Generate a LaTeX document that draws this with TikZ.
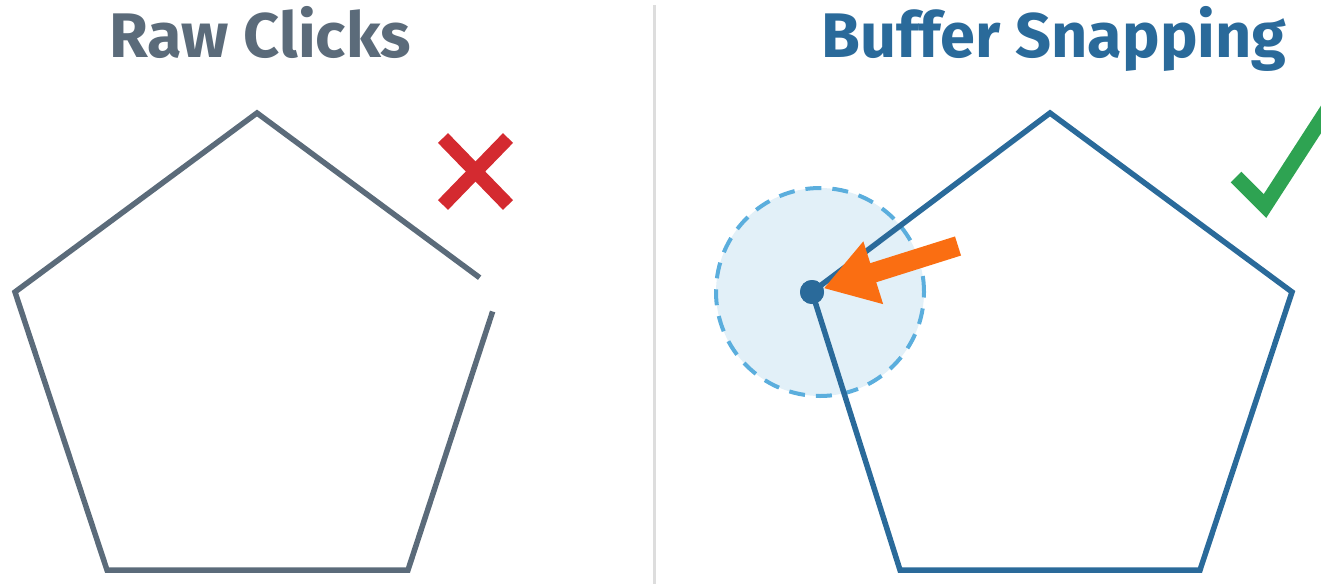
\documentclass[tikz,border=0pt]{standalone}
\usepackage{fontspec}
\setmainfont{Fira Sans}
\usepackage{tikz}
\usetikzlibrary{arrows.meta, calc}
\definecolor{slate}{HTML}{5B6B7A}
\definecolor{snapblue}{HTML}{2A6A9A}
\definecolor{xred}{HTML}{D42A30}
\definecolor{okgreen}{HTML}{2EA352}
\definecolor{pointer}{HTML}{FA6E12}
\definecolor{bufferfill}{HTML}{E2F0F8}
\definecolor{bufferline}{HTML}{5BAEDD}
\definecolor{divider}{HTML}{DDDDDD}
\tikzstyle{title}    = [font=\fontsize{63}{75}\selectfont\bfseries, anchor=base, inner sep=0pt]
\tikzstyle{outline}  = [line width=5.5pt, line join=miter]
\tikzstyle{badmark}  = [xred, line width=14pt]
\tikzstyle{goodmark} = [okgreen, line width=15pt, line join=miter]
\tikzstyle{buffer}   = [circle, fill=bufferfill, draw=bufferline, line width=4pt, dash pattern=on 16pt off 11pt, minimum size=208pt, inner sep=0pt]
\tikzstyle{vertex}   = [circle, fill=snapblue, minimum size=24pt, inner sep=0pt]
\tikzstyle{arrow}    = [pointer, line width=20pt, -{Triangle[length=52pt, width=62pt]}]
\begin{document}
\begin{tikzpicture}[x=1pt, y=-1pt]
    \useasboundingbox (0,0) rectangle (1321,584);

    \node (rawtitle)  at (260,57)  [title, slate]    {Raw Clicks};
    \node (snaptitle) at (1054,57) [title, snapblue] {Buffer Snapping};

    \coordinate (divtop) at (654,5);
    \coordinate (divbot) at (654,584);
    \draw [divider, line width=3pt] (divtop) -- (divbot);

    \coordinate (lt)  at (257,113);
    \coordinate (lr)  at (499,292);
    \coordinate (lbr) at (408,570);
    \coordinate (lbl) at (107,570);
    \coordinate (ll)  at (15,292);
    \draw [outline, slate] ($(lt)!0.92!(lr)$) -- (lt) -- (ll) -- (lbl) -- (lbr) -- ($(lr)!0.07!(lbr)$);

    \coordinate (xa) at (443,138);
    \coordinate (xb) at (508,205);
    \coordinate (xc) at (508,138);
    \coordinate (xd) at (443,205);
    \draw [badmark] (xa) -- (xb);
    \draw [badmark] (xc) -- (xd);

    \node (zone) at (820,292) [buffer] {};
    \coordinate (rt)  at (1050,113);
    \coordinate (rr)  at (1292,292);
    \coordinate (rbr) at (1200,570);
    \coordinate (rbl) at (900,570);
    \node (snap) at (812,292) [vertex] {};
    \draw [outline, snapblue] (snap.center) -- (rt) -- (rr) -- (rbr) -- (rbl) -- cycle;
    \node at (snap.center) [vertex] {};

    \coordinate (tail) at (958,246);
    \draw [arrow] (tail) -- (snap);

    \coordinate (ca) at (1236,177);
    \coordinate (cb) at (1265,206);
    \coordinate (cc) at (1340,90);
    \draw [goodmark] (ca) -- (cb) -- (cc);
\end{tikzpicture}
\end{document}
